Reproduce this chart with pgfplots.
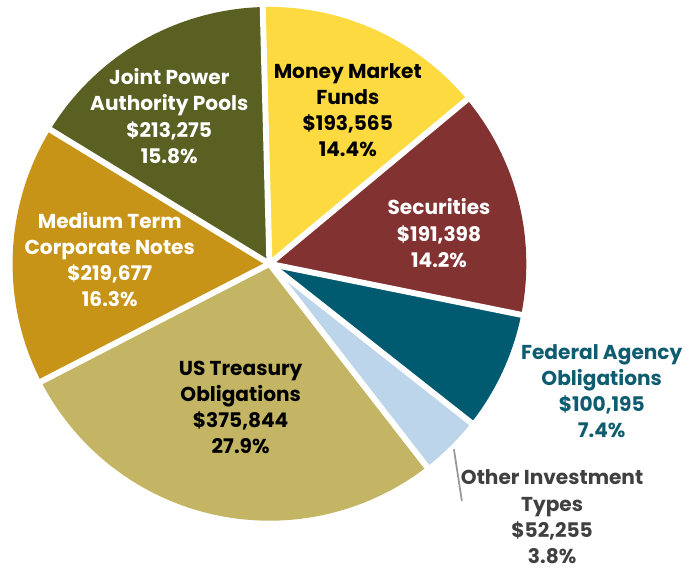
\documentclass[border=0pt]{standalone}
\usepackage{pgfplots}
\pgfplotsset{compat=1.18}
\usepackage{fontspec}
\setmainfont{Poppins}
\definecolor{cMM}{HTML}{FDDA3F}
\definecolor{cSec}{HTML}{833232}
\definecolor{cFed}{HTML}{005A70}
\definecolor{cOth}{HTML}{BDD5EA}
\definecolor{cUST}{HTML}{C3B563}
\definecolor{cMTN}{HTML}{C89418}
\definecolor{cJPA}{HTML}{5A5F22}
\definecolor{tFed}{HTML}{0E5C6F}
\definecolor{tOth}{HTML}{404040}
\begin{document}
\begin{tikzpicture}
\begin{axis}[width=685pt,height=575pt,scale only axis,
  xmin=0,xmax=685,ymin=0,ymax=575,hide axis,clip=false]
\addplot[draw=none] coordinates {(0,0) (685,575)};
\pgfplotsextra{
  \def\total{1346.209}
  \xdef\cum{0}
  \foreach \v/\c in {193.565/cMM,191.398/cSec,100.195/cFed,52.255/cOth,375.844/cUST,219.677/cMTN,213.275/cJPA}{
    \pgfmathsetmacro{\a}{91.5-(\cum/\total)*360}
    \pgfmathsetmacro{\e}{\a-(\v/\total)*360}
    \fill[\c] (axis cs:266,309) -- +(\a:259pt) arc[start angle=\a,end angle=\e,radius=259pt] -- cycle;
    \pgfmathsetmacro{\nc}{\cum+\v}
    \xdef\cum{\nc}
  }
  \xdef\cum{0}
  \foreach \v in {193.565,191.398,100.195,52.255,375.844,219.677,213.275}{
    \pgfmathsetmacro{\a}{91.5-(\cum/\total)*360}
    \draw[white,line width=6pt] (axis cs:266,309) -- +(\a:262pt);
    \pgfmathsetmacro{\nc}{\cum+\v}
    \xdef\cum{\nc}
  }
  \fill[white] (axis cs:266,309) circle[radius=4pt];
}
\draw[black!40,line width=1.8pt] (axis cs:452,122) -- (axis cs:460,70);
\tikzset{lab/.style={align=center,font=\fontsize{20.3}{26.3}\selectfont\bfseries,inner sep=0pt}}
\node[lab,white] at (axis cs:165,458) {Joint Power\\Authority Pools\\\$213,275\\15.8\%};
\node[lab,black] at (axis cs:345,464) {Money Market\\Funds\\\$193,565\\14.4\%};
\node[lab,white] at (axis cs:437,340) {Securities\\\$191,398\\14.2\%};
\node[lab,white] at (axis cs:105,313) {Medium Term\\Corporate Notes\\\$219,677\\16.3\%};
\node[lab,black] at (axis cs:237,164) {US Treasury\\Obligations\\\$375,844\\27.9\%};
\node[lab,tFed] at (axis cs:601,180.5) {Federal Agency\\Obligations\\\$100,195\\7.4\%};
\node[lab,tOth] at (axis cs:551,54) {Other Investment\\Types\\\$52,255\\3.8\%};
\end{axis}
\end{tikzpicture}
\end{document}
